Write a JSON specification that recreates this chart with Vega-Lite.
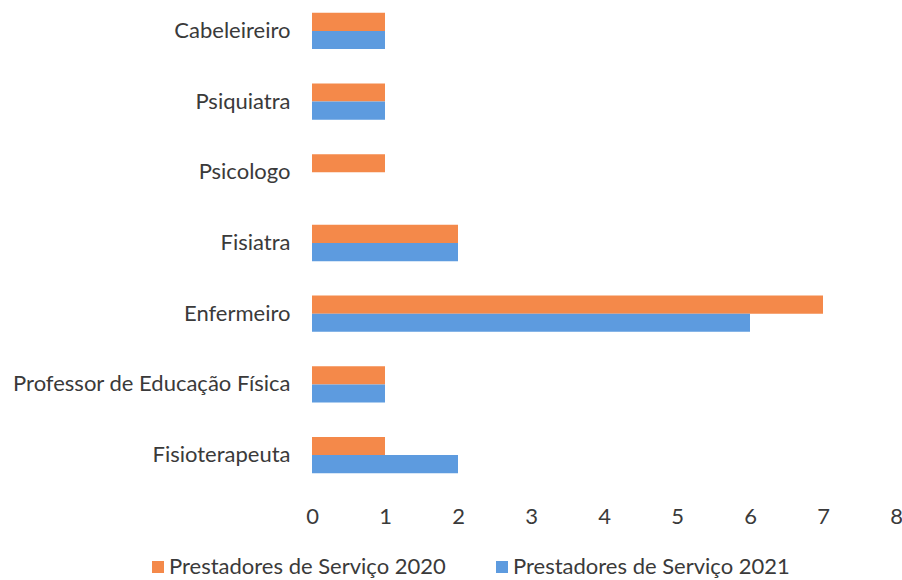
{
  "$schema": "https://vega.github.io/schema/vega-lite/v6.json",
  "autosize": {"type": "none"},
  "width": 584,
  "height": 486,
  "padding": {"left": 312, "top": 0, "right": 6, "bottom": 94},
  "background": "white",
  "data": {
    "values": [
      {"cat": "Cabeleireiro", "serie": "Prestadores de Serviço 2020", "v": 1},
      {"cat": "Cabeleireiro", "serie": "Prestadores de Serviço 2021", "v": 1},
      {"cat": "Psiquiatra", "serie": "Prestadores de Serviço 2020", "v": 1},
      {"cat": "Psiquiatra", "serie": "Prestadores de Serviço 2021", "v": 1},
      {"cat": "Psicologo", "serie": "Prestadores de Serviço 2020", "v": 1},
      {"cat": "Psicologo", "serie": "Prestadores de Serviço 2021", "v": 0},
      {"cat": "Fisiatra", "serie": "Prestadores de Serviço 2020", "v": 2},
      {"cat": "Fisiatra", "serie": "Prestadores de Serviço 2021", "v": 2},
      {"cat": "Enfermeiro", "serie": "Prestadores de Serviço 2020", "v": 7},
      {"cat": "Enfermeiro", "serie": "Prestadores de Serviço 2021", "v": 6},
      {"cat": "Professor de Educação Física", "serie": "Prestadores de Serviço 2020", "v": 1},
      {"cat": "Professor de Educação Física", "serie": "Prestadores de Serviço 2021", "v": 1},
      {"cat": "Fisioterapeuta", "serie": "Prestadores de Serviço 2020", "v": 1},
      {"cat": "Fisioterapeuta", "serie": "Prestadores de Serviço 2021", "v": 2}
    ]
  },
  "mark": {"type": "bar"},
  "encoding": {
    "y": {
      "field": "cat", "type": "nominal", "sort": null, "title": null,
      "scale": {"paddingInner": 0.486, "paddingOuter": 0.18},
      "axis": {"domain": false, "ticks": false, "labelFont": "Lato", "labelFontSize": 22, "labelColor": "#3a3a3a", "labelPadding": 22, "labelLimit": 400}
    },
    "yOffset": {"field": "serie", "type": "nominal", "sort": ["Prestadores de Serviço 2020", "Prestadores de Serviço 2021"]},
    "x": {
      "field": "v", "type": "quantitative", "title": null,
      "scale": {"domain": [0, 8], "nice": false},
      "axis": {"domain": false, "ticks": false, "grid": false, "tickCount": 8, "labelFont": "Lato", "labelFontSize": 22, "labelColor": "#3a3a3a", "labelPadding": 20, "labelFlush": false}
    },
    "color": {
      "field": "serie", "type": "nominal",
      "scale": {"domain": ["Prestadores de Serviço 2020", "Prestadores de Serviço 2021"], "range": ["#F4894A", "#5D9BDF"]},
      "legend": {"title": null, "orient": "none", "direction": "horizontal", "legendX": -165, "legendY": 556, "symbolType": "square", "symbolSize": 144, "labelFont": "Lato", "labelFontSize": 22, "labelColor": "#3a3a3a", "columnPadding": 45, "labelLimit": 400, "labelOffset": 0}
    }
  },
  "config": {"view": {"stroke": null}}
}
